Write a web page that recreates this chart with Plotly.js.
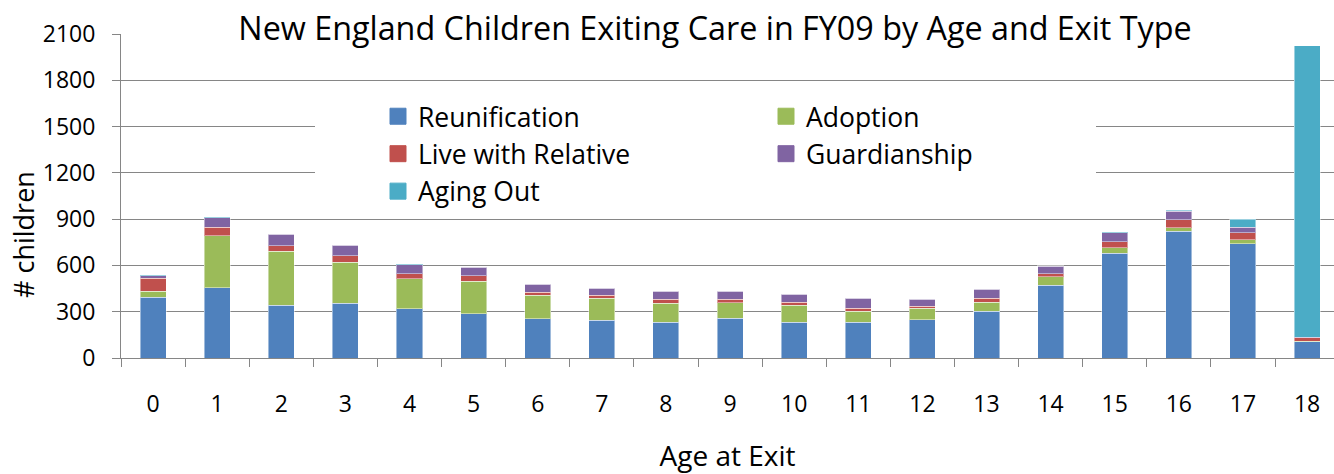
<!DOCTYPE html>
<html>
<head>
<meta charset="utf-8">
<script src="https://cdn.plot.ly/plotly-3.0.1.min.js"></script>
<style>html,body{margin:0;padding:0;background:#fff;}#chart{width:1334px;height:474px;}</style>
</head>
<body>
<div id="chart"></div>
<script>
const ages = ['0','1','2','3','4','5','6','7','8','9','10','11','12','13','14','15','16','17','18'];
const reunification = [395, 456, 343, 354, 318, 287, 256, 245, 232, 258, 232, 232, 248, 304, 473, 680, 821, 739, 105];
const adoption      = [37, 335, 348, 266, 196, 209, 152, 143, 122, 100, 111, 72, 73, 58, 54, 35, 24, 29, 5];
const liveWithRelative = [86, 58, 35, 43, 32, 37, 17, 18, 26, 24, 19, 19, 15, 26, 19, 37, 50, 43, 22];
const guardianship  = [15, 59, 76, 67, 59, 54, 54, 47, 52, 50, 52, 63, 46, 57, 50, 61, 56, 37, 4];
const agingOut      = [4, 5, 2, 2, 2, 2, 2, 2, 2, 2, 2, 2, 2, 5, 3, 2, 7, 50, 1888];
const yTicks = [0, 300, 600, 900, 1200, 1500, 1800, 2100];

const FONT = 'Open Sans, Noto Sans, sans-serif';
const series = [
  {name: 'Reunification', y: reunification, color: '#4F81BD', legend: 'legend'},
  {name: 'Adoption', y: adoption, color: '#9BBB59', legend: 'legend2'},
  {name: 'Live with Relative', y: liveWithRelative, color: '#C0504D', legend: 'legend'},
  {name: 'Guardianship', y: guardianship, color: '#8064A2', legend: 'legend2'},
  {name: 'Aging Out', y: agingOut, color: '#4BACC6', legend: 'legend'}
];

const traces = [];
series.forEach(s => {
  traces.push({
    type: 'bar', x: ages, y: s.y, name: s.name, showlegend: false,
    marker: {color: s.color, line: {color: 'rgba(255,255,255,0.45)', width: 1}},
    hoverinfo: 'skip'
  });
});
series.forEach((s, i) => {
  traces.push({
    type: 'scatter', mode: 'markers', x: [null], y: [null], name: s.name,
    legend: s.legend, legendgroup: 'g' + i, showlegend: true,
    marker: {symbol: 'square', size: 16, color: s.color, line: {color: s.color, width: 1}},
    hoverinfo: 'skip'
  });
});

const W = 1334, H = 474, L = 121, T = 34, B = 116;
const pw = W - L, ph = H - T - B;
const px2x = p => (p - L) / pw;
const py2y = p => (H - B - p) / ph;

const layout = {
  width: W, height: H,
  margin: {l: L, r: 0, t: T, b: B, pad: 0},
  paper_bgcolor: '#ffffff', plot_bgcolor: '#ffffff',
  font: {family: FONT, color: '#000000'},
  barmode: 'stack', bargap: 0.594,
  showlegend: true,
  title: {text: 'New England Children Exiting Care in FY09 by Age and Exit Type',
    font: {family: FONT, size: 32.3, color: '#000'},
    xref: 'container', yref: 'container', x: 715 / W, xanchor: 'center', y: 1 - 29 / H, yanchor: 'middle'},
  xaxis: {
    type: 'category', range: [-0.5, 18.42], fixedrange: true,
    showline: true, linecolor: '#868686', linewidth: 1,
    ticks: 'outside', tickson: 'boundaries', ticklen: 8, tickcolor: '#868686', tickwidth: 1,
    showgrid: false, zeroline: false,
    tickfont: {family: FONT, size: 23, color: '#000'}, ticklabelstandoff: 25,
    title: {text: 'Age at Exit', font: {family: FONT, size: 28, color: '#000'}, standoff: 36}
  },
  yaxis: {
    range: [0, 2100], tickvals: yTicks, ticktext: yTicks.map(String), fixedrange: true,
    showline: true, linecolor: '#868686', linewidth: 1,
    ticks: 'outside', ticklen: 8, tickcolor: '#868686', tickwidth: 1,
    showgrid: true, gridcolor: '#868686', gridwidth: 1, zeroline: false,
    tickfont: {family: FONT, size: 23, color: '#000'}, ticklabelstandoff: 12
  },
  legend: {x: px2x(378), y: py2y(92.5), xanchor: 'left', yanchor: 'top', xref: 'paper', yref: 'paper',
    bgcolor: 'rgba(0,0,0,0)', borderwidth: 0, orientation: 'v', tracegroupgap: 0,
    font: {family: FONT, size: 26.5, color: '#000'}},
  legend2: {x: px2x(766), y: py2y(92.5), xanchor: 'left', yanchor: 'top', xref: 'paper', yref: 'paper',
    bgcolor: 'rgba(0,0,0,0)', borderwidth: 0, orientation: 'v', tracegroupgap: 0,
    font: {family: FONT, size: 26.5, color: '#000'}},
  shapes: [
    {type: 'rect', xref: 'paper', yref: 'paper', layer: 'above',
      x0: px2x(228), x1: px2x(1203), y0: py2y(44), y1: py2y(22), fillcolor: '#fff', line: {width: 0}},
    {type: 'rect', xref: 'paper', yref: 'paper', layer: 'above',
      x0: px2x(315), x1: px2x(1096), y0: py2y(208), y1: py2y(95), fillcolor: '#fff', line: {width: 0}}
  ],
  annotations: [
    {text: '# children', xref: 'paper', yref: 'paper', x: px2x(23), y: py2y(235),
      xanchor: 'center', yanchor: 'middle', textangle: -90, showarrow: false,
      font: {family: FONT, size: 27, color: '#000'}}
  ],
  hovermode: false
};

Plotly.newPlot('chart', traces, layout, {displayModeBar: false, staticPlot: true});
</script>
</body>
</html>
